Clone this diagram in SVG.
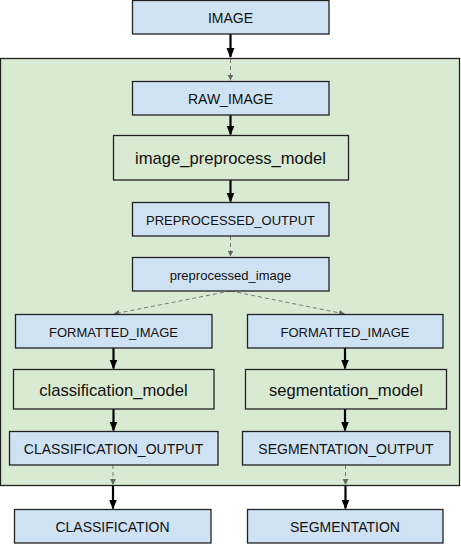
<svg xmlns="http://www.w3.org/2000/svg" width="461" height="544" viewBox="0 0 461 544">
<style>
.b{fill:#cfe2f3;stroke:#222;stroke-width:1.3}
.g{fill:#d9ead3;stroke:#222;stroke-width:1.3}
text{font-family:"Liberation Sans",Arial,sans-serif;fill:#111;text-anchor:middle;dominant-baseline:central}
.s{stroke:#000;stroke-width:2.2;fill:none}
.d{stroke:#777;stroke-width:1;stroke-dasharray:4,3;fill:none}
</style>
<defs>
<marker id="ah" markerWidth="10" markerHeight="10" viewBox="0 0 10 10" refX="9" refY="5" orient="auto" markerUnits="userSpaceOnUse">
<path d="M0,1 L10,5 L0,9 z" fill="#000"/>
</marker>
<marker id="ad" markerWidth="6" markerHeight="6" viewBox="0 0 6 6" refX="6" refY="3" orient="auto" markerUnits="userSpaceOnUse">
<path d="M0,0 L6,3 L0,6 z" fill="#666"/>
</marker>
</defs>
<g id="container"><rect x="0.5" y="58.5" width="459" height="427" class="g"/></g>
<g id="connectors">
<line x1="230.5" y1="34" x2="230.5" y2="57" class="s" marker-end="url(#ah)"/>
<line x1="230.5" y1="59" x2="230.5" y2="80.5" class="d" marker-end="url(#ad)"/>
<line x1="230.5" y1="115" x2="230.5" y2="134.5" class="s" marker-end="url(#ah)"/>
<line x1="230.5" y1="180" x2="230.5" y2="201.5" class="s" marker-end="url(#ah)"/>
<line x1="230.5" y1="236" x2="230.5" y2="256.5" class="d" marker-end="url(#ad)"/>
<line x1="230.5" y1="291" x2="113.5" y2="314" class="d" marker-end="url(#ad)"/>
<line x1="230.5" y1="291" x2="345" y2="314" class="d" marker-end="url(#ad)"/>
<line x1="113.5" y1="348" x2="113.5" y2="368.5" class="s" marker-end="url(#ah)"/>
<line x1="113.5" y1="409" x2="113.5" y2="430.5" class="s" marker-end="url(#ah)"/>
<line x1="345" y1="348" x2="345" y2="368.5" class="s" marker-end="url(#ah)"/>
<line x1="345" y1="409" x2="345" y2="430.5" class="s" marker-end="url(#ah)"/>
<line x1="113" y1="465" x2="113" y2="485" class="d" marker-end="url(#ad)"/>
<line x1="113" y1="486" x2="113" y2="508.5" class="s" marker-end="url(#ah)"/>
<line x1="345.5" y1="465" x2="345.5" y2="485" class="d" marker-end="url(#ad)"/>
<line x1="345.5" y1="486" x2="345.5" y2="508.5" class="s" marker-end="url(#ah)"/>
</g>
<g id="image"><rect x="132.5" y="0.5" width="196.5" height="33.5" class="b"/><text x="230.5" y="18" font-size="14">IMAGE</text></g>
<g id="raw_image"><rect x="132.5" y="81.5" width="196.5" height="33.5" class="b"/><text x="230.5" y="99" font-size="14">RAW_IMAGE</text></g>
<g id="image_preprocess_model"><rect x="113.5" y="135.5" width="235" height="44.5" class="g"/><text x="230.5" y="158.5" font-size="16.6">image_preprocess_model</text></g>
<g id="preprocessed_output"><rect x="132.5" y="202.5" width="196.5" height="33.5" class="b"/><text x="230.5" y="220" font-size="13">PREPROCESSED_OUTPUT</text></g>
<g id="preprocessed_image"><rect x="132.5" y="257.5" width="196.5" height="33.5" class="b"/><text x="230.5" y="275" font-size="13">preprocessed_image</text></g>
<g id="formatted_image_left"><rect x="15.5" y="314.5" width="196.5" height="33.5" class="b"/><text x="113.5" y="332" font-size="13">FORMATTED_IMAGE</text></g>
<g id="classification_model"><rect x="13.5" y="369.5" width="200.5" height="39.5" class="g"/><text x="113.5" y="390" font-size="16.6">classification_model</text></g>
<g id="classification_output"><rect x="9.5" y="431.5" width="208.5" height="33.5" class="b"/><text x="113.5" y="449" font-size="14">CLASSIFICATION_OUTPUT</text></g>
<g id="classification"><rect x="14.5" y="509.5" width="196.5" height="33.5" class="b"/><text x="112.5" y="527" font-size="14">CLASSIFICATION</text></g>
<g id="formatted_image_right"><rect x="247.5" y="314.5" width="195.5" height="33.5" class="b"/><text x="345" y="332" font-size="13">FORMATTED_IMAGE</text></g>
<g id="segmentation_model"><rect x="245.5" y="369.5" width="201" height="39.5" class="g"/><text x="346" y="390" font-size="16.6">segmentation_model</text></g>
<g id="segmentation_output"><rect x="242.5" y="431.5" width="207.5" height="33.5" class="b"/><text x="346" y="449" font-size="14">SEGMENTATION_OUTPUT</text></g>
<g id="segmentation"><rect x="247.5" y="509.5" width="195.5" height="33.5" class="b"/><text x="345" y="527" font-size="14">SEGMENTATION</text></g>
</svg>
